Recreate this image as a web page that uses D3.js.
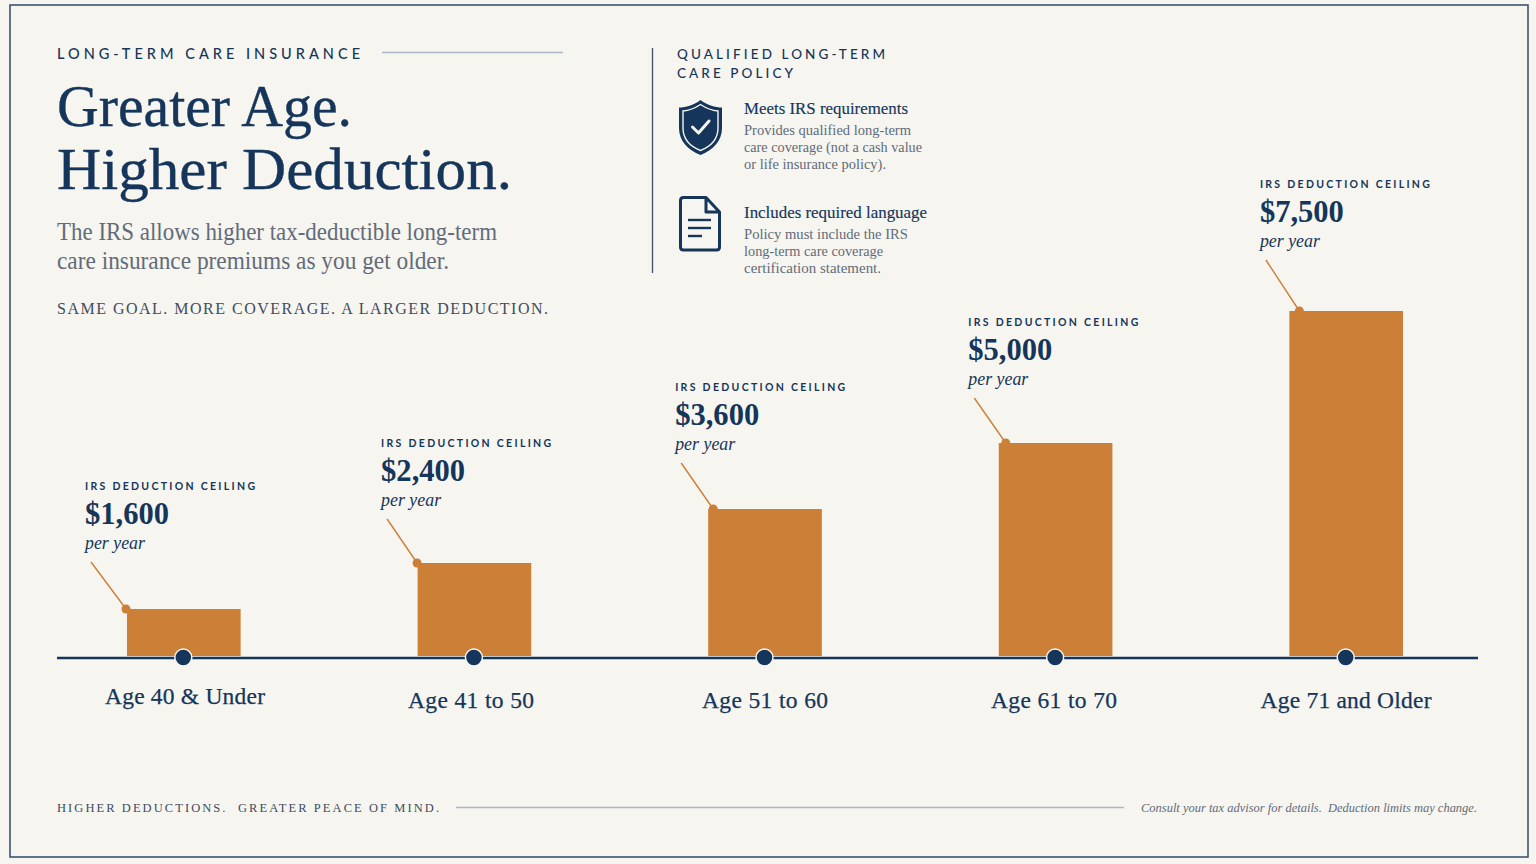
<!DOCTYPE html>
<html><head><meta charset="utf-8">
<script src="https://cdn.jsdelivr.net/npm/d3@7/dist/d3.min.js"></script>
<style>html,body{margin:0;padding:0;background:#f6f5f0;overflow:hidden}svg{display:block}</style>
</head><body><svg id="c" width="1536" height="864"></svg>
<script>
const categories = ["Age 40 & Under","Age 41 to 50","Age 51 to 60","Age 61 to 70","Age 71 and Older"];
const ceilings = [1600,2400,3600,5000,7500];
const ceilingLabels = ["$1,600","$2,400","$3,600","$5,000","$7,500"];
const barTops = [609,563,509,443,311];   // the picture's bars are not proportional to the labels

const BG="#f6f5f0", NAVY="#15355a", ORANGE="#cc7f36", GREY="#626b79", RULE="#aab7c7", FRAME="#2f4a6b";
const SERIF="'Liberation Serif',serif", SANS="Lato,sans-serif";
const svg=d3.select("#c");

function t(x,y,s,o){
  const e=svg.append("text").attr("x",x).attr("y",y).text(s)
    .attr("font-family",o.f||SERIF).attr("font-size",o.z).attr("fill",o.c||NAVY)
    .attr("font-weight",o.w||400).attr("font-style",o.i?"italic":"normal")
    .attr("xml:space","preserve").style("white-space","pre");
  if(o.a) e.attr("text-anchor",o.a);
  if(o.len) e.attr("textLength",o.len).attr("lengthAdjust",o.adj||"spacingAndGlyphs");
  if(o.sw) e.attr("stroke",o.c||NAVY).attr("stroke-width",o.sw);
  return e;
}
function rule(x1,y1,x2,y2,c,w){svg.append("line").attr("x1",x1).attr("y1",y1).attr("x2",x2).attr("y2",y2).attr("stroke",c).attr("stroke-width",w);}

svg.append("rect").attr("width",1536).attr("height",864).attr("fill",BG);
svg.append("rect").attr("x",10).attr("y",5).attr("width",1518).attr("height",852).attr("fill","none").attr("stroke",FRAME).attr("stroke-width",1.5);

// header
t(57,58.5,"LONG-TERM CARE INSURANCE",{f:SANS,z:14.5,w:500,len:303,adj:"spacing"});
rule(382,52.5,563,52.5,RULE,1.3);
t(57,126,"Greater Age.",{z:60,len:295,sw:.4});
t(57,189,"Higher Deduction.",{z:60,len:455,sw:.4});
t(57,240,"The IRS allows higher tax-deductible long-term",{z:25,c:GREY,len:440});
t(57,269,"care insurance premiums as you get older.",{z:25,c:GREY,len:392});
t(57,314,"SAME GOAL. MORE COVERAGE. A LARGER DEDUCTION.",{z:16,c:"#3f4c60",len:491,adj:"spacing"});

// policy panel
rule(652.5,48,652.5,273,"#3f5068",1.3);
t(677,58.5,"QUALIFIED LONG-TERM",{f:SANS,z:13.5,w:500,len:208,adj:"spacing"});
t(677,77.5,"CARE POLICY",{f:SANS,z:13.5,w:500,len:116,adj:"spacing"});
t(744,114,"Meets IRS requirements",{z:17.5,len:164,sw:.15});
t(744,135,"Provides qualified long-term",{z:14.5,c:GREY,len:167});
t(744,152,"care coverage (not a cash value",{z:14.5,c:GREY,len:178});
t(744,169,"or life insurance policy).",{z:14.5,c:GREY,len:142});
t(744,218,"Includes required language",{z:17.5,len:183,sw:.15});
t(744,239,"Policy must include the IRS",{z:14.5,c:GREY,len:164});
t(744,256,"long-term care coverage",{z:14.5,c:GREY,len:139});
t(744,273,"certification statement.",{z:14.5,c:GREY,len:137});

// shield icon
svg.append("path").attr("fill",NAVY).attr("d","M700.5 100 C693 105.5 686 107.5 679 107.5 L679 128 C679 141 688 150 700.5 155 C713 150 722 141 722 128 L722 107.5 C715 107.5 708 105.5 700.5 100 Z");
svg.append("path").attr("fill","none").attr("stroke",BG).attr("stroke-width",1.4).attr("d","M700.5 104.5 C694.5 108.5 689 110.5 683 111 L683 128 C683 139 690.5 146.5 700.5 150.5 C710.5 146.5 718 139 718 128 L718 111 C712 110.5 706.5 108.5 700.5 104.5 Z");
svg.append("path").attr("fill","none").attr("stroke",BG).attr("stroke-width",3).attr("stroke-linecap","round").attr("stroke-linejoin","round").attr("d","M692.5 127 L698.5 133 L709 121");
// document icon
svg.append("path").attr("fill","none").attr("stroke",NAVY).attr("stroke-width",3).attr("stroke-linejoin","round").attr("d","M683.5 197.5 L706 197.5 L719.5 212 L719.5 247 Q719.5 250 716.5 250 L683.5 250 Q680.5 250 680.5 247 L680.5 200.5 Q680.5 197.5 683.5 197.5 Z M706 197.5 L706 212 L719.5 212");
[[688,711,220],[688,711,228],[688,702,236]].forEach(d=>rule(d[0],d[2],d[1],d[2],NAVY,2.4));

// chart
const x=d3.scaleBand().domain(categories).range([127,1403]).paddingInner(0.609).paddingOuter(0);
const y=d3.scaleLinear().domain(ceilings).range(barTops);
const base=656;
const labelDx=[-42,-36.5,-33,-30.5,-29.5];
const labelDy=[-119,-116,-118,-117,-123];
const dotDx=[-1,-0.5,5,7,10];
const catCx=[185,471,765,1054,1346], catY=[704,708,708,708,708], catLen=[160,126,126,126,171];

svg.append("g").selectAll("rect").data(ceilings).join("rect")
  .attr("x",(d,i)=>x(categories[i])).attr("y",d=>y(d))
  .attr("width",x.bandwidth()).attr("height",d=>base-y(d)).attr("fill",ORANGE);

rule(57,658,1478,658,NAVY,2.4);

ceilings.forEach((v,i)=>{
  const bx=x(categories[i]), top=y(v), lx=bx+labelDx[i], ly=top+labelDy[i];
  t(lx,ly,"IRS DEDUCTION CEILING",{f:SANS,z:10.5,w:700,len:170,adj:"spacing"});
  t(lx,ly+33.5,ceilingLabels[i],{z:31,w:700,len:84});
  t(lx,ly+59,"per year",{z:19,i:true,len:60});
  rule(lx+6,ly+72,bx+dotDx[i],top,ORANGE,1.4);
  svg.append("circle").attr("cx",bx+dotDx[i]).attr("cy",top).attr("r",4.5).attr("fill",ORANGE);
  svg.append("circle").attr("cx",x(categories[i])+x.bandwidth()/2-0.5).attr("cy",657.5).attr("r",8.5)
    .attr("fill",NAVY).attr("stroke",BG).attr("stroke-width",1.5);
  t(catCx[i],catY[i],categories[i],{z:23.5,a:"middle",len:catLen[i],adj:"spacing",sw:.25});
});

// footer
t(57,812,"HIGHER DEDUCTIONS.  GREATER PEACE OF MIND.",{z:12.5,c:"#3f4c60",len:382,adj:"spacing"});
rule(456,807.5,1124,807.5,RULE,1.3);
t(1141,812,"Consult your tax advisor for details.  Deduction limits may change.",{z:13.5,c:GREY,i:true,len:336});
</script></body></html>
